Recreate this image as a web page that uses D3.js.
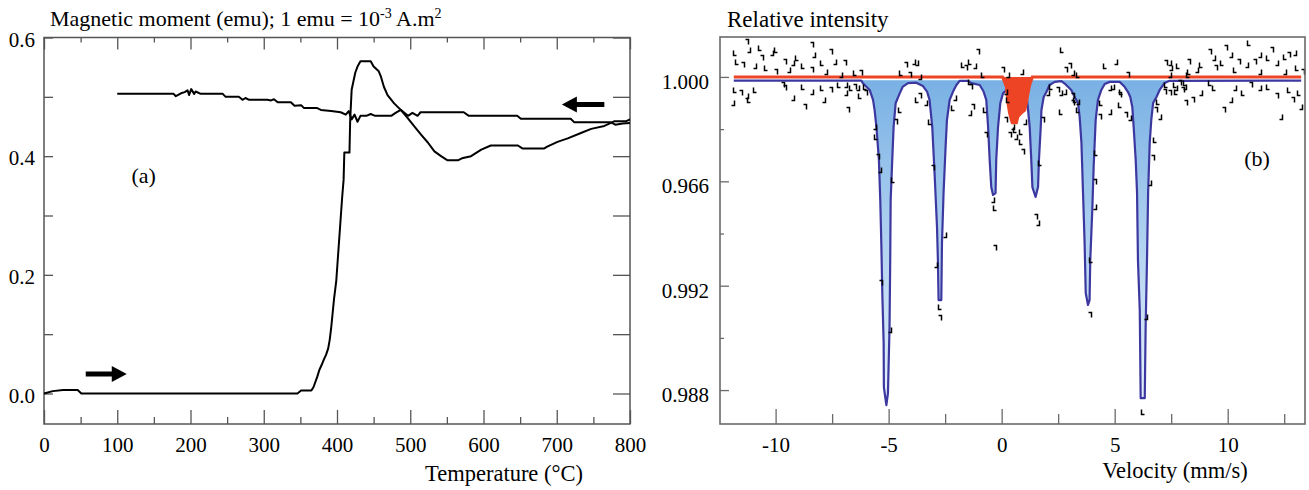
<!DOCTYPE html>
<html>
<head>
<meta charset="utf-8">
<script src="https://cdn.jsdelivr.net/npm/d3@7.9.0/dist/d3.min.js"></script>
<style>
  body { margin: 0; background: #fff; }
  svg { display: block; }
  text { font-family: "Liberation Serif", "Times New Roman", serif; fill: #000; }
</style>
</head>
<body>
<svg id="chart" width="1309" height="490"></svg>
<script>
// ---- panel (a): thermomagnetic curve ----
const heatTemp = [0, 12, 26, 46, 51, 346, 351, 365, 368, 373, 376, 379, 382, 385, 388, 390, 392, 394, 396, 399,
  401, 403, 405, 407, 409, 410, 417, 418, 420, 425, 428, 432, 446, 450, 457, 460, 464, 469, 478, 487, 496, 505,
  515, 524, 533, 542, 551, 565, 572, 583, 597, 610, 647, 653, 683, 687, 701, 715, 733, 747, 765, 774, 779, 795, 800];
const heatMoment = [0.000, 0.004, 0.006, 0.006, 0.000, 0.000, 0.005, 0.005, 0.011, 0.028, 0.040, 0.048, 0.057,
  0.065, 0.076, 0.090, 0.110, 0.135, 0.160, 0.190, 0.225, 0.260, 0.295, 0.330, 0.360, 0.406, 0.406, 0.461, 0.512,
  0.541, 0.551, 0.560, 0.560, 0.551, 0.543, 0.534, 0.517, 0.503, 0.489, 0.478, 0.465, 0.451, 0.436, 0.423, 0.408,
  0.400, 0.393, 0.393, 0.397, 0.400, 0.411, 0.418, 0.418, 0.413, 0.413, 0.416, 0.424, 0.430, 0.439, 0.446, 0.451,
  0.456, 0.459, 0.459, 0.462];

const coolTemp = [100, 177, 180, 187, 192, 196, 198, 201, 205, 207, 214, 244, 248, 266, 271, 275, 280, 305, 310,
  314, 319, 337, 342, 351, 355, 373, 378, 392, 405, 412, 416, 420, 424, 428, 432, 440, 446, 452, 474, 480, 487,
  492, 497, 503, 510, 514, 573, 580, 646, 651, 719, 724, 774, 780, 790, 800];
const coolMoment = [0.505, 0.505, 0.501, 0.506, 0.508, 0.511, 0.503, 0.513, 0.505, 0.509, 0.505, 0.505, 0.500,
  0.500, 0.495, 0.498, 0.495, 0.495, 0.494, 0.496, 0.491, 0.491, 0.485, 0.486, 0.481, 0.481, 0.478, 0.476, 0.474,
  0.470, 0.476, 0.462, 0.470, 0.458, 0.468, 0.468, 0.471, 0.468, 0.468, 0.473, 0.478, 0.473, 0.468, 0.473, 0.468,
  0.474, 0.474, 0.468, 0.468, 0.463, 0.463, 0.457, 0.457, 0.453, 0.455, 0.456];

const tempMajor = [0, 100, 200, 300, 400, 500, 600, 700, 800];
const tempMinor = [50, 150, 250, 350, 450, 550, 650, 750];
const momentTicks = [0, 0.1, 0.2, 0.3, 0.4, 0.5, 0.6];
const momentLabels = ['0.0', '', '0.2', '', '0.4', '', '0.6'];

// ---- panel (b): Mossbauer spectrum ----
const fitVelocity = [-11.85, -6.21, -6.14, -5.84, -5.69, -5.62, -5.54, -5.43, -5.37, -5.32, -5.28, -5.22, -5.21,
  -5.10, -5.03, -4.96, -4.93, -4.91, -4.84, -4.78, -4.69, -4.51, -4.37, -4.14, -3.78, -3.48, -3.30, -3.19, -3.07,
  -2.96, -2.86, -2.82, -2.79, -2.67, -2.64, -2.57, -2.48, -2.42, -2.30, -2.15, -2.00, -1.86, -1.49, -1.34, -0.97,
  -0.80, -0.68, -0.60, -0.53, -0.46, -0.38, -0.27, -0.24, -0.16, -0.06, 0.06, 0.21, 0.70, 1.09, 1.17, 1.24, 1.31,
  1.36, 1.50, 1.61, 1.65, 1.73, 1.76, 1.86, 1.98, 2.12, 2.35, 2.64, 2.82, 3.08, 3.23, 3.38, 3.45, 3.53, 3.60, 3.67,
  3.72, 3.82, 3.89, 3.92, 4.01, 4.07, 4.16, 4.26, 4.41, 4.56, 4.78, 5.22, 5.44, 5.59, 5.69, 5.78, 5.84, 5.93, 5.99,
  6.03, 6.11, 6.15, 6.33, 6.37, 6.43, 6.48, 6.55, 6.62, 6.70, 6.85, 6.99, 7.21, 7.43, 13.25];
const fitIntensity = [0.99986, 0.99986, 0.99976, 0.99950, 0.99912, 0.99873, 0.99808, 0.99682, 0.99528, 0.99348,
  0.99172, 0.98980, 0.98811, 0.98742, 0.98787, 0.99041, 0.99298, 0.99528, 0.99682, 0.99808, 0.99899, 0.99937,
  0.99963, 0.99976, 0.99978, 0.99965, 0.99944, 0.99912, 0.99808, 0.99617, 0.99425, 0.99298, 0.99145, 0.99145,
  0.99364, 0.99555, 0.99732, 0.99835, 0.99912, 0.99944, 0.99969, 0.99985, 0.99985, 0.99976, 0.99969, 0.99944,
  0.99912, 0.99808, 0.99682, 0.99578, 0.99548, 0.99555, 0.99682, 0.99808, 0.99899, 0.99937, 0.99950, 0.99955,
  0.99942, 0.99873, 0.99808, 0.99682, 0.99578, 0.99540, 0.99578, 0.99682, 0.99808, 0.99873, 0.99923, 0.99942,
  0.99969, 0.99981, 0.99984, 0.99972, 0.99950, 0.99923, 0.99900, 0.99847, 0.99747, 0.99555, 0.99364, 0.99172,
  0.99126, 0.99145, 0.99298, 0.99490, 0.99655, 0.99835, 0.99912, 0.99950, 0.99973, 0.99981, 0.99981, 0.99962,
  0.99942, 0.99923, 0.99885, 0.99808, 0.99682, 0.99555, 0.99298, 0.99107, 0.98769, 0.98769, 0.99041, 0.99298,
  0.99555, 0.99747, 0.99835, 0.99900, 0.99923, 0.99950, 0.99977, 0.99985, 0.99986];
const fitBaseline = 0.99987;

const singletVelocity = [-11.85, 0.04, 0.21, 0.28, 0.35, 0.43, 0.47, 0.65, 0.72, 0.87, 1.02, 1.09, 1.17, 1.24, 1.36, 13.25];
const singletIntensity = [1.0, 1.0, 0.99963, 0.99900, 0.99862, 0.99835, 0.99824, 0.99824, 0.99848, 0.99862,
  0.99873, 0.99900, 0.99939, 0.99969, 1.0, 1.0];

const obsVelocity = [-11.81, -11.26, -11.17, -10.71, -10.61, -10.15, -9.97, -9.60, -9.23, -9.05, -8.40, -8.31,
  -7.94, -7.57, -7.39, -11.72, -11.44, -10.89, -10.43, -9.97, -9.41, -8.77, -8.40, -7.76, -11.81, -11.53, -11.26,
  -10.89, -9.69, -9.23, -8.77, -8.68, -8.40, -7.94, -7.57, -11.90, -11.17, -9.60, -7.85, -7.20,
  -6.95, -7.09, -6.50, -6.21, -6.87, -6.65, -6.50, -6.36, -6.06, -5.99, -6.87, -6.28, -6.80, -5.62, -5.55, -5.47,
  -5.40, -4.81, -5.34, -4.96, -4.51, -4.66, -3.74, -4.44, -4.07, -3.63, -3.74, -3.63, -3.33, -3.19, -3.04, -2.89,
  -2.74, -2.74, -2.52, -1.71, -1.56, -1.19, -0.83, 0.06, 0.28, -1.42, -1.34, -2.08, -2.15, -1.27, -1.42, -0.75,
  -0.68, -0.38, -0.31, -0.31, 0.21, 0.28, 0.21, 0.50, 0.58, 0.35, 0.65, 0.87, 0.94, 1.02, 0.87, 1.53, 1.61, 1.68,
  1.83, 2.05, 2.20, 2.49, 2.64, 2.64, 3.01, 3.16, 3.38, 3.16, 3.38, 3.38, -4.25, -3.88, -1.39, -1.03, 0.91, 2.66,
  2.86, 2.79, 3.23, 3.16, 5.07, 4.56, 5.59, 4.93, 5.29, 5.22, 4.78, 4.41, 4.34, 4.78, 5.22, 5.52, 5.66, 6.92, 6.84,
  6.99, 6.77, 6.70, 6.55, 4.19, 4.11, 4.11, 3.97, 3.89, 6.40, 6.25, 7.29, 7.43, 7.65, 7.88, 8.10, 8.24, 8.17, 7.51,
  7.73, 7.21, 7.45, 7.82, 8.28, 8.65, 8.84, 9.21, 9.39, 9.76, 9.94, 10.13, 10.31, 10.50, 10.87, 10.96, 11.23, 11.42,
  11.79, 11.97, 12.16, 12.52, 12.71, 12.99, 13.08, 13.35, 12.52, 8.28, 9.48, 11.42, 7.27, 7.45, 7.73, 8.10, 8.47,
  8.84, 9.39, 9.85, 10.31, 10.68, 11.05, 11.42, 11.79, 12.16, 12.34, 12.71, 12.89, 13.26, 13.17, 8.01, 10.13, 9.21];
const obsIntensity = [1.00091, 1.00135, 1.00104, 1.00110, 1.00072, 1.00091, 1.00104, 1.00059, 1.00052, 1.00072,
  1.00123, 1.00084, 1.00052, 1.00097, 1.00059, 1.00059, 1.00046, 1.00040, 1.00033, 1.00020, 1.00027, 1.00040,
  1.00027, 1.00020, 0.99950, 0.99937, 0.99925, 0.99950, 0.99969, 0.99918, 0.99963, 0.99886, 0.99944, 0.99957,
  0.99950, 0.99899, 0.99912, 0.99957, 0.99912, 0.99969,
  1.00052, 1.00008, 1.00014, 1.00014, 0.99969, 0.99957, 0.99963, 0.99957, 0.99963, 0.99937, 0.99937, 0.99925,
  0.99874, 0.99810, 0.99771, 0.99695, 0.99643, 0.99605, 0.99209, 0.99030, 0.99874, 0.99829, 1.00052, 1.00014,
  1.00008, 1.00001, 0.99912, 0.99925, 0.99899, 0.99829, 0.99650, 0.99279, 0.99119, 0.99075, 0.99394, 1.00046,
  1.00033, 1.00040, 1.00008, 1.00027, 1.00008, 0.99982, 0.99963, 0.99918, 0.99880, 0.99886, 0.99861, 0.99874,
  0.99778, 0.99528, 0.99496, 0.99343, 0.99944, 0.99912, 0.99835, 0.99810, 0.99797, 0.99778, 0.99771, 0.99752,
  0.99714, 0.99829, 0.99790, 0.99465, 0.99439, 0.99669, 0.99835, 0.99937, 0.99963, 0.99950, 0.99937, 0.99867,
  1.00040, 1.00014, 1.00008, 0.99925, 0.99905, 0.99874, 1.00046, 1.00059, 1.00059, 1.00097, 1.00020, 1.00104,
  1.00027, 0.99944, 0.99912, 0.99899, 1.00059, 1.00040, 1.00008, 0.99963, 0.99944, 0.99931, 0.99957, 0.99899,
  0.99848, 0.99867, 0.99893, 0.99854, 0.99842, 0.99905, 0.99874, 0.99848, 0.99758, 0.99688, 0.99592, 0.99707,
  0.99599, 0.99503, 0.99298, 0.99088, 0.99081, 0.98717, 1.00052, 1.00008, 0.99969, 0.99976, 0.99963, 1.00008,
  0.99899, 1.00033, 0.99944, 0.99944, 1.00052, 1.00040, 1.00059, 1.00027, 1.00046, 1.00097, 1.00072, 1.00052,
  1.00110, 1.00084, 1.00027, 1.00059, 1.00046, 1.00129, 1.00059, 1.00084, 1.00072, 1.00104, 1.00052, 1.00078,
  1.00084, 1.00091, 1.00033, 1.00020, 1.00020, 1.00020, 1.00033, 1.00020, 0.99969, 0.99937, 0.99957, 0.99976,
  0.99912, 0.99937, 0.99957, 0.99873, 0.99957, 0.99937, 0.99969, 0.99957, 0.99963, 0.99925, 0.99848, 0.99950,
  0.99912, 0.99886, 0.99937, 0.99950, 0.99912, 0.99976];

const velocityMajor = [-10, -5, 0, 5, 10];
const velocityMinor = [-7.5, -2.5, 2.5, 7.5, 12.5];
const intensityMajor = [1.000, 0.996, 0.992, 0.988];
const intensityLabels = ['1.000', '0.966', '0.992', '0.988'];
const intensityMinor = [0.998, 0.994, 0.990];

const svg = d3.select('#chart');
const zip = (xs, ys) => xs.map((x, i) => [x, ys[i]]);
const serif = '"Liberation Serif", "Times New Roman", serif';

function styleAxis(g, color, size) {
  g.attr('font-family', null).attr('font-size', null);
  g.select('.domain').remove();
  g.selectAll('.tick line').attr('stroke', color).attr('stroke-width', 1.3);
  g.selectAll('.tick text').attr('fill', '#000')
    .style('font-family', serif).style('font-size', size + 'px');
}

// ================= panel (a) =================
const xT = d3.scaleLinear().domain([0, 800]).range([44, 630]);
const yM = d3.scaleLinear().domain([0, 0.6]).range([393.5, 37.5]);
const aTop = 37.5, aBottom = 424;
const axisColA = '#555';

svg.append('g').attr('transform', `translate(0,${aBottom})`)
  .call(d3.axisBottom(xT).tickValues(tempMajor).tickSize(-14).tickPadding(13).tickFormat(d => String(d)))
  .call(g => styleAxis(g, axisColA, 21));
svg.append('g').attr('transform', `translate(0,${aBottom})`)
  .call(d3.axisBottom(xT).tickValues(tempMinor).tickSize(-7).tickFormat(''))
  .call(g => styleAxis(g, axisColA, 21));
svg.append('g').attr('transform', `translate(0,${aTop})`)
  .call(d3.axisTop(xT).tickValues(tempMajor).tickSize(-12).tickFormat(''))
  .call(g => styleAxis(g, axisColA, 21));
svg.append('g').attr('transform', `translate(0,${aTop})`)
  .call(d3.axisTop(xT).tickValues(tempMinor).tickSize(-5).tickFormat(''))
  .call(g => styleAxis(g, axisColA, 21));
svg.append('g').attr('transform', `translate(${xT(0)},0)`)
  .call(d3.axisLeft(yM).tickValues(momentTicks).tickSize(-9).tickPadding(9)
    .tickFormat((d, i) => momentLabels[i]))
  .call(g => styleAxis(g, axisColA, 21))
  .call(g => g.selectAll('.tick text').attr('dy', '0.42em'));
svg.append('g').attr('transform', `translate(${xT(800)},0)`)
  .call(d3.axisRight(yM).tickValues(momentTicks).tickSize(-17).tickFormat(''))
  .call(g => styleAxis(g, axisColA, 21));

svg.append('rect')
  .attr('x', xT(0)).attr('y', aTop)
  .attr('width', xT(800) - xT(0)).attr('height', aBottom - aTop)
  .attr('fill', 'none').attr('stroke', axisColA).attr('stroke-width', 1.5);

const lineA = d3.line().x(d => xT(d[0])).y(d => yM(d[1]));
svg.append('path').datum(zip(heatTemp, heatMoment))
  .attr('d', lineA).attr('fill', 'none').attr('stroke', '#000')
  .attr('stroke-width', 2).attr('stroke-linejoin', 'round');
svg.append('path').datum(zip(coolTemp, coolMoment))
  .attr('d', lineA).attr('fill', 'none').attr('stroke', '#000')
  .attr('stroke-width', 2).attr('stroke-linejoin', 'round');

// direction arrows (tail temperature, tip temperature, moment)
function arrow(tFrom, tTo, m) {
  const x1 = xT(tFrom), x2 = xT(tTo), y = yM(m);
  const dir = Math.sign(x2 - x1), head = 15;
  const xb = x2 - dir * head;
  svg.append('path')
    .attr('d', `M${x1},${y - 2.5}L${xb},${y - 2.5}L${xb},${y - 8}L${x2},${y}L${xb},${y + 8}L${xb},${y + 2.5}L${x1},${y + 2.5}Z`)
    .attr('fill', '#000');
}
arrow(57, 113, 0.033);
arrow(765, 707, 0.487);

svg.append('text').attr('x', xT(136)).attr('y', yM(0.367)).attr('dy', '0.35em')
  .attr('text-anchor', 'middle').attr('font-size', 22).text('(a)');

const titleA = svg.append('text').attr('x', 50).attr('y', 26).attr('font-size', 22);
titleA.append('tspan').text('Magnetic moment (emu); 1 emu = 10');
titleA.append('tspan').attr('dy', -8).attr('font-size', 14).text('-3');
titleA.append('tspan').attr('dy', 8).text(' A.m');
titleA.append('tspan').attr('dy', -8).attr('font-size', 14).text('2');

svg.append('text').attr('x', 504).attr('y', 481).attr('text-anchor', 'middle')
  .attr('font-size', 22.5).text('Temperature (°C)');

// ================= panel (b) =================
const xV = d3.scaleLinear().domain([-12.46, 13.42]).range([720, 1305]);
const yI = d3.scaleLinear().domain([0.98670, 1.00153]).range([424, 37]);
const axisColB = '#6a6a6a';

const defs = svg.append('defs');
const grad = defs.append('linearGradient').attr('id', 'fitFill')
  .attr('gradientUnits', 'userSpaceOnUse')
  .attr('x1', 0).attr('x2', 0).attr('y1', yI(1.0)).attr('y2', yI(0.9874));
grad.append('stop').attr('offset', '0%').attr('stop-color', '#78b0e4');
grad.append('stop').attr('offset', '100%').attr('stop-color', '#e8f3fc');

const fitData = zip(fitVelocity, fitIntensity);
svg.append('path').datum(fitData)
  .attr('d', d3.area().x(d => xV(d[0])).y0(yI(fitBaseline)).y1(d => yI(d[1])))
  .attr('fill', 'url(#fitFill)');
svg.append('path').datum(fitData)
  .attr('d', d3.line().x(d => xV(d[0])).y(d => yI(d[1])))
  .attr('fill', 'none').attr('stroke', '#3c38a0').attr('stroke-width', 2.2)
  .attr('stroke-linejoin', 'round');

const singletData = zip(singletVelocity, singletIntensity);
svg.append('path').datum(singletData)
  .attr('d', d3.area().x(d => xV(d[0])).y0(yI(1.0)).y1(d => yI(d[1])))
  .attr('fill', '#ec4424');
svg.append('path').datum(singletData)
  .attr('d', d3.line().x(d => xV(d[0])).y(d => yI(d[1])))
  .attr('fill', 'none').attr('stroke', '#ec4424').attr('stroke-width', 3);

// measured points, drawn as small corner marks
svg.append('g').selectAll('path')
  .data(zip(obsVelocity, obsIntensity))
  .join('path')
  .attr('d', (d, i) => {
    const x = Math.round(xV(d[0])) + 0.5, y = Math.round(yI(d[1])) + 0.5;
    return i % 3 === 0 ? `M${x - 2},${y - 3}v5h3`
      : i % 3 === 1 ? `M${x - 2},${y - 3}h3v5` : `M${x + 1},${y - 3}v5h-3`;
  })
  .attr('fill', 'none').attr('stroke', '#000').attr('stroke-width', 1.5);

svg.append('g').attr('transform', `translate(0,424)`)
  .call(d3.axisBottom(xV).tickValues(velocityMajor).tickSize(-15).tickPadding(13).tickFormat(d => String(d)))
  .call(g => styleAxis(g, axisColB, 21));
svg.append('g').attr('transform', `translate(0,424)`)
  .call(d3.axisBottom(xV).tickValues(velocityMinor).tickSize(-10).tickFormat(''))
  .call(g => styleAxis(g, axisColB, 21));
svg.append('g').attr('transform', `translate(720,0)`)
  .call(d3.axisLeft(yI).tickValues(intensityMajor).tickSize(-9).tickPadding(11)
    .tickFormat((d, i) => intensityLabels[i]))
  .call(g => styleAxis(g, axisColB, 21))
  .call(g => g.selectAll('.tick text').attr('dy', '0.55em'));
svg.append('g').attr('transform', `translate(720,0)`)
  .call(d3.axisLeft(yI).tickValues(intensityMinor).tickSize(-4).tickFormat(''))
  .call(g => styleAxis(g, axisColB, 21));

svg.append('rect')
  .attr('x', 720).attr('y', 37)
  .attr('width', 585).attr('height', 387)
  .attr('fill', 'none').attr('stroke', axisColB).attr('stroke-width', 1.6);

svg.append('text').attr('x', 1257).attr('y', 158).attr('dy', '0.35em')
  .attr('text-anchor', 'middle').attr('font-size', 22).text('(b)');
svg.append('text').attr('x', 727).attr('y', 27).attr('font-size', 23).text('Relative intensity');
svg.append('text').attr('x', 1175).attr('y', 478).attr('text-anchor', 'middle')
  .attr('font-size', 22.5).text('Velocity (mm/s)');
</script>
</body>
</html>
